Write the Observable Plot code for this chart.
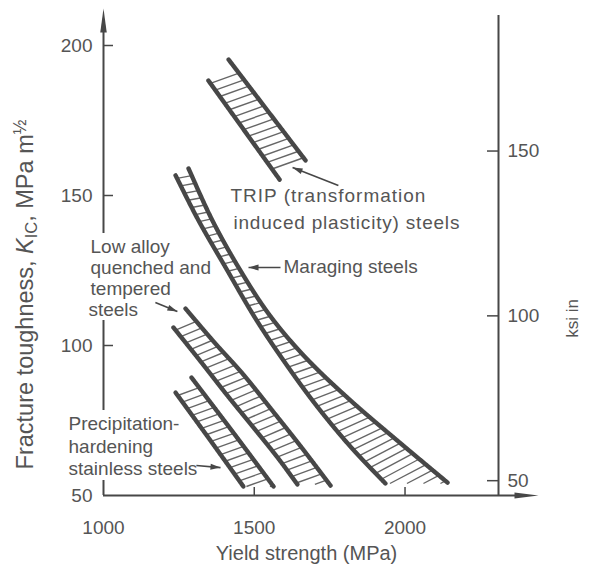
<!DOCTYPE html>
<html><head><meta charset="utf-8">
<script src="https://cdn.jsdelivr.net/npm/d3@7"></script>
<script src="https://cdn.jsdelivr.net/npm/@observablehq/plot@0.6"></script>
<style>body{margin:0;background:#fff}</style>
</head><body><div id="chart"></div>
<script>
// ---------- data (yield strength MPa, fracture toughness MPa m^1/2) ----------
const tripInnerX = [1348, 1584];
const tripInnerY = [188.3, 155.3];
const tripOuterX = [1415, 1670];
const tripOuterY = [195.3, 161.7];

const maragingInnerX = [1239, 1315, 1405, 1504, 1604, 1706, 1819, 1935];
const maragingInnerY = [156.7, 141.7, 126, 109, 94, 80, 66.3, 54];
const maragingOuterX = [1282, 1361, 1454, 1554, 1673, 1819, 1978, 2141];
const maragingOuterY = [159, 141.7, 125, 109.7, 95.7, 81.7, 68, 54.3];

const lowAlloyInnerX = [1232, 1322, 1411, 1497, 1577, 1643];
const lowAlloyInnerY = [106, 94.7, 83.3, 72.7, 62.7, 53.7];
const lowAlloyOuterX = [1272, 1368, 1464, 1560, 1657, 1753];
const lowAlloyOuterY = [112.3, 101, 90.3, 78.3, 66, 53.3];

const precipInnerX = [1239, 1352, 1464];
const precipInnerY = [84.3, 68.7, 53];
const precipOuterX = [1292, 1428, 1564];
const precipOuterY = [89.3, 71.3, 53];

// annotation text lines (anchored at left, vertically centred)
const labelText = ["TRIP (transformation", "induced plasticity) steels", "Maraging steels",
  "Low alloy", "quenched and", "tempered", "steels",
  "Precipitation-", "hardening", "stainless steels"];
const labelX = [1421, 1431, 1597, 957, 957, 957, 950, 884, 884, 884];
const labelY = [149.7, 141, 126.3, 133, 126, 119, 112, 74, 66.3, 58.7];

// pointer arrows: from (x1,y1) to tip (x2,y2)
const arrowX1 = [1779, 1587, 1172, 1308];
const arrowY1 = [153.3, 126, 114.3, 60];
const arrowX2 = [1627, 1481, 1245, 1388];
const arrowY2 = [159.3, 126, 111.3, 59.3];

const leftTicks = [50, 100, 150, 200];
const bottomTicks = [1000, 1500, 2000];
const ksiTicks = [50, 100, 150];
const KSI = 1.0988; // 1 ksi·in^1/2 = 1.0988 MPa·m^1/2

// ---------- layout ----------
const W = 593, H = 568, ML = 103, MR = 95, MT = 15, MB = 73;
const xDomain = [1000, 2310], yDomain = [50, 210];
const xs = d3.scaleLinear(xDomain, [ML, W - MR]);
const ys = d3.scaleLinear(yDomain, [H - MB, MT]);
const INK = "#474747", TXT = "#555";
const SPACING = 7.8, RUNG = 74 * Math.PI / 180;

function catmull(X, Y) {
  const P = X.map((x, i) => [xs(x), ys(Y[i])]);
  const out = [];
  for (let i = 0; i < P.length - 1; i++) {
    const p0 = P[Math.max(0, i - 1)], p1 = P[i], p2 = P[i + 1], p3 = P[Math.min(P.length - 1, i + 2)];
    const n = Math.max(4, Math.ceil(Math.hypot(p2[0] - p1[0], p2[1] - p1[1]) / 0.5));
    for (let k = 0; k < n; k++) {
      const t = k / n, t2 = t * t, t3 = t2 * t;
      out.push([0, 1].map(c => 0.5 * (2 * p1[c] + (-p0[c] + p2[c]) * t +
        (2 * p0[c] - 5 * p1[c] + 4 * p2[c] - p3[c]) * t2 + (-p0[c] + 3 * p1[c] - 3 * p2[c] + p3[c]) * t3)));
    }
  }
  out.push(P[P.length - 1]);
  return out;
}
function tangent(pts, i) {
  const a = pts[Math.max(0, i - 4)], b = pts[Math.min(pts.length - 1, i + 4)];
  return Math.atan2(b[1] - a[1], b[0] - a[0]);
}
function intersect(P, d, poly) {
  let best = null;
  for (let j = 1; j < poly.length; j++) {
    const A = poly[j - 1], B = poly[j];
    const e = [B[0] - A[0], B[1] - A[1]];
    const den = d[0] * e[1] - d[1] * e[0];
    if (Math.abs(den) < 1e-9) continue;
    const w = [A[0] - P[0], A[1] - P[1]];
    const t = (w[0] * e[1] - w[1] * e[0]) / den;
    const u = (w[0] * d[1] - w[1] * d[0]) / den;
    if (t > 0.5 && u >= 0 && u <= 1 && (best === null || t < best)) best = t;
  }
  return best === null || best > 70 ? null : [P[0] + best * d[0], P[1] + best * d[1]];
}
function hatch(inner, outer) {
  const base = inner.map((p, i) => ({p, a: tangent(inner, i)}));
  const ein = inner[inner.length - 1], eout = outer[outer.length - 1];
  const aEnd = base[base.length - 1].a;
  for (let x = ein[0] + 0.5; x < eout[0]; x += 0.5) base.push({p: [x, ein[1]], a: aEnd});
  const out = [];
  let acc = SPACING * 0.6;
  for (let i = 1; i < base.length; i++) {
    const r = RUNG - base[i].a;
    const d = [Math.cos(r), -Math.sin(r)];
    const s = [base[i].p[0] - base[i - 1].p[0], base[i].p[1] - base[i - 1].p[1]];
    acc += Math.abs(s[0] * d[1] - s[1] * d[0]);
    if (acc >= SPACING) {
      acc -= SPACING;
      const hit = intersect(base[i].p, d, outer);
      if (hit) out.push({x1: xs.invert(base[i].p[0]), y1: ys.invert(base[i].p[1]), x2: xs.invert(hit[0]), y2: ys.invert(hit[1])});
    }
  }
  return out;
}

const bands = [
  ["trip", tripInnerX, tripInnerY, tripOuterX, tripOuterY],
  ["maraging", maragingInnerX, maragingInnerY, maragingOuterX, maragingOuterY],
  ["lowalloy", lowAlloyInnerX, lowAlloyInnerY, lowAlloyOuterX, lowAlloyOuterY],
  ["precip", precipInnerX, precipInnerY, precipOuterX, precipOuterY]
];
const railRows = [], hatchRows = [];
for (const [name, ix, iy, ox, oy] of bands) {
  const inner = catmull(ix, iy), outer = catmull(ox, oy);
  inner.forEach(p => railRows.push({k: name + "-in", x: xs.invert(p[0]), y: ys.invert(p[1])}));
  outer.forEach(p => railRows.push({k: name + "-out", x: xs.invert(p[0]), y: ys.invert(p[1])}));
  hatchRows.push(...hatch(inner, outer));
}

const labels = labelText.map((t, i) => ({t, x: labelX[i], y: labelY[i]}));
const arrows = arrowX1.map((x1, i) => {
  const dx = xs(arrowX2[i]) - xs(x1), dy = ys(arrowY2[i]) - ys(arrowY1[i]);
  return {x1, y1: arrowY1[i], x2: arrowX2[i], y2: arrowY2[i], rot: Math.atan2(dx, -dy) * 180 / Math.PI};
});

const head = w => ({draw(ctx, size) {
  const r = Math.sqrt(size / Math.PI);
  ctx.moveTo(0, 0); ctx.lineTo(w * r, 2 * r); ctx.lineTo(-w * r, 2 * r); ctx.closePath();
}});

// axis geometry (in data units, derived from the frame)
const xMin = xDomain[0], xMax = xDomain[1], yMin = yDomain[0], yMax = yDomain[1];
const leftSegs = [[yMin, ys.invert(480)], [ys.invert(410), ys.invert(320)], [ys.invert(233), ys.invert(30)]];
const xArrowTip = xs.invert(W - MR + 40);
const yArrowTip = ys.invert(MT - 7);

const LEFT_TITLE = "Fracture toughness, KIC, MPa m½";

const chart = Plot.plot({
  width: W, height: H,
  marginLeft: ML, marginRight: MR, marginTop: MT, marginBottom: MB,
  x: {domain: xDomain}, y: {domain: yDomain},
  style: {fontFamily: "'Liberation Sans', Arial, sans-serif", fontSize: "19px", color: TXT, background: "#fff"},
  marks: [
    Plot.link(hatchRows, {x1: "x1", y1: "y1", x2: "x2", y2: "y2", stroke: "#666", strokeWidth: 1.4}),
    Plot.line(railRows, {x: "x", y: "y", z: "k", stroke: INK, strokeWidth: 4.4, strokeLinecap: "round"}),
    // axes lines
    Plot.ruleY([yMin], {x1: xMin, x2: xs.invert(W - MR + 20), stroke: INK, strokeWidth: 2}),
    Plot.ruleX(leftSegs, {x: () => xMin, y1: d => d[0], y2: d => d[1], stroke: INK, strokeWidth: 2}),
    Plot.ruleX([xMax], {y1: yMin, y2: yMax, stroke: INK, strokeWidth: 2}),
    Plot.dot([0], {x: () => xMin, y: () => yArrowTip, symbol: head(0.27), r: 12, fill: INK, stroke: "none"}),
    Plot.dot([0], {x: () => xArrowTip, y: () => yMin, symbol: head(0.25), r: 12, fill: INK, stroke: "none", rotate: 90}),
    // tick marks (inward)
    Plot.ruleY(leftTicks.slice(1), {x1: xMin, x2: xs.invert(ML + 10), stroke: INK, strokeWidth: 1.5}),
    Plot.ruleX(bottomTicks.slice(1), {y1: yMin, y2: ys.invert(H - MB - 8), stroke: INK, strokeWidth: 1.5}),
    Plot.ruleY(ksiTicks.map(k => k * KSI), {x1: xs.invert(W - MR - 11), x2: xMax, stroke: INK, strokeWidth: 1.5}),
    // tick labels
    Plot.axisY({anchor: "left", ticks: leftTicks, tickSize: 0, tickPadding: 11, label: null, tickFormat: d => String(d)}),
    Plot.axisX({anchor: "bottom", ticks: bottomTicks, tickSize: 0, tickPadding: 25, label: null, tickFormat: d => String(d)}),
    Plot.axisY({anchor: "right", ticks: ksiTicks.map(k => k * KSI), tickFormat: d => String(Math.round(d / KSI)), tickSize: 0, tickPadding: 9, label: null}),
    // annotations
    Plot.link(arrows, {x1: "x1", y1: "y1", x2: "x2", y2: "y2", stroke: INK, strokeWidth: 1.6}),
    Plot.dot(arrows, {x: "x2", y: "y2", rotate: "rot", symbol: head(0.6), r: 5, fill: INK, stroke: "none"}),
    Plot.text(labels, {x: "x", y: "y", text: "t", textAnchor: "start", fill: TXT}),
    // axis titles
    Plot.text(["Yield strength (MPa)"], {x: () => xs.invert(306), y: () => ys.invert(553), text: d => d, fontSize: 20, fill: TXT}),
    Plot.text([LEFT_TITLE], {x: () => xs.invert(25), y: () => ys.invert(294), text: d => d, rotate: -90, fontSize: 23.5, fill: TXT}),
    Plot.text(["ksi in"], {x: () => xs.invert(572), y: () => ys.invert(318), text: d => d, rotate: -90, fontSize: 17, fill: TXT})
  ]
});

const allText = [...chart.querySelectorAll("text")];
// rich text for the left title (italic K, subscript IC, superscript ½)
const tEl = allText.find(e => e.textContent === LEFT_TITLE);
if (tEl) {
  tEl.textContent = "";
  const NS = "http://www.w3.org/2000/svg";
  [["Fracture toughness, ", {}], ["K", {"font-style": "italic"}],
   ["IC", {"baseline-shift": "-25%", "font-size": "70%"}], [", MPa m", {}],
   ["½", {"baseline-shift": "40%", "font-size": "75%"}]].forEach(([s, attrs]) => {
    const ts = document.createElementNS(NS, "tspan");
    for (const k in attrs) ts.setAttribute(k, attrs[k]);
    ts.textContent = s;
    tEl.appendChild(ts);
  });
}
// the TRIP label is set with wider spacing in the original
allText.filter(e => e.textContent === labelText[0] || e.textContent === labelText[1])
  .forEach(e => e.setAttribute("letter-spacing", e.textContent === labelText[0] ? "1" : "0.8"));
document.getElementById("chart").appendChild(chart);
</script>
</body></html>
